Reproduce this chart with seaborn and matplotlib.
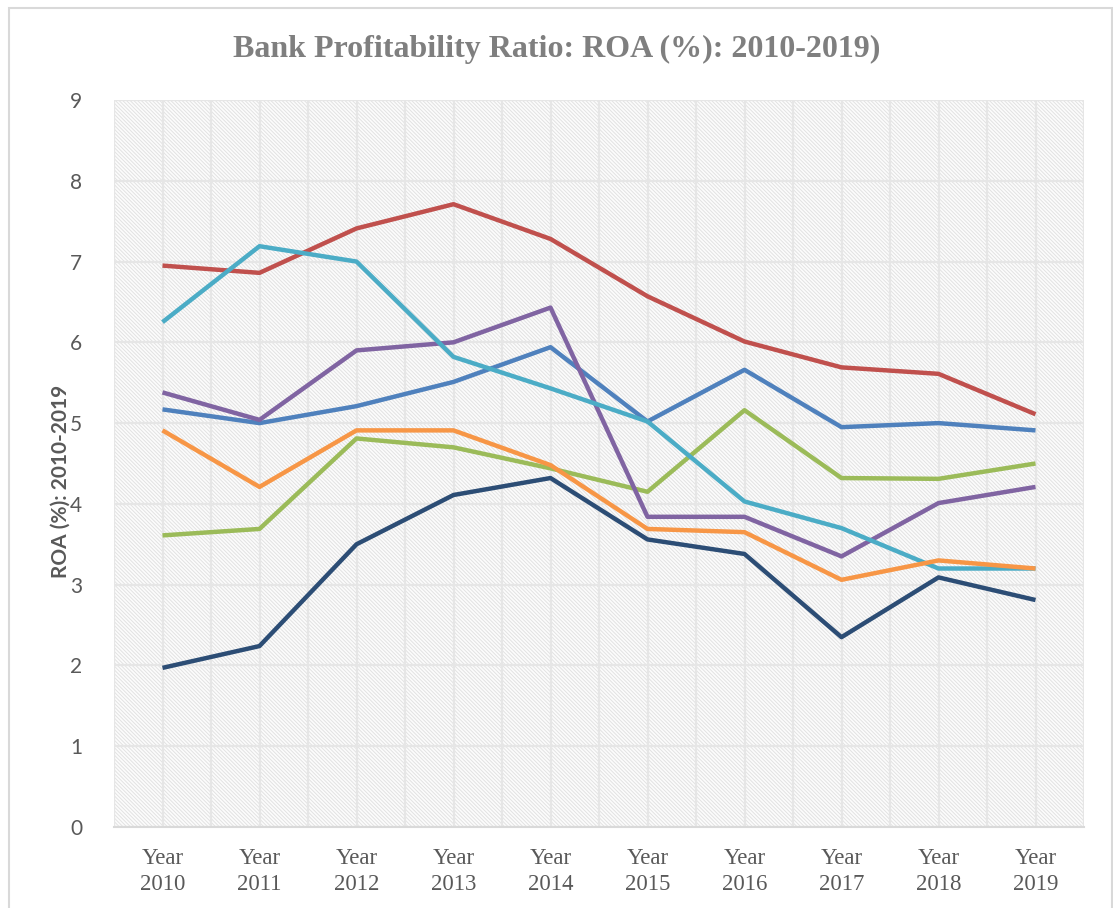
import matplotlib
matplotlib.use("Agg")
import matplotlib.pyplot as plt
from matplotlib.patches import Rectangle
import seaborn as sns
import pandas as pd
import numpy as np

years = ["Year\n2010", "Year\n2011", "Year\n2012", "Year\n2013", "Year\n2014",
         "Year\n2015", "Year\n2016", "Year\n2017", "Year\n2018", "Year\n2019"]

series_names = ["Bank 1", "Bank 2", "Bank 3", "Bank 4", "Bank 5", "Bank 6", "Bank 7"]

bank1 = [5.17, 5.00, 5.21, 5.51, 5.94, 5.02, 5.66, 4.95, 5.00, 4.91]   # blue
bank2 = [6.95, 6.86, 7.41, 7.71, 7.28, 6.57, 6.01, 5.69, 5.61, 5.11]   # red
bank3 = [3.61, 3.69, 4.81, 4.70, 4.44, 4.15, 5.16, 4.32, 4.31, 4.50]   # green
bank4 = [5.38, 5.04, 5.90, 6.00, 6.43, 3.84, 3.84, 3.35, 4.01, 4.21]   # purple
bank5 = [6.25, 7.19, 7.00, 5.82, 5.43, 5.02, 4.03, 3.70, 3.20, 3.20]   # cyan
bank6 = [4.91, 4.21, 4.91, 4.91, 4.48, 3.69, 3.65, 3.06, 3.30, 3.20]   # orange
bank7 = [1.97, 2.24, 3.50, 4.11, 4.32, 3.56, 3.38, 2.35, 3.09, 2.81]   # navy

colors = ["#4F81BD", "#C0504D", "#9BBB59", "#8064A2", "#4BACC6", "#F79646", "#2C4D75"]

all_vals = [bank1, bank2, bank3, bank4, bank5, bank6, bank7]
rows = []
for name, vals in zip(series_names, all_vals):
    for i, (yr, v) in enumerate(zip(years, vals)):
        rows.append({"pos": i, "year": yr, "series": name, "roa": v})
df = pd.DataFrame(rows)

sns.set_theme(style="white")
plt.rcParams["hatch.color"] = "#e2e2e2"
plt.rcParams["hatch.linewidth"] = 0.7

fig = plt.figure(figsize=(11.13, 9.08), dpi=100)
ax = fig.add_axes([114/1113, 81/908, (1084-114)/1113, (827-100)/908])

# hatched background
bg = Rectangle((0, 0), 1, 1, transform=ax.transAxes, facecolor="#fcfcfc",
               hatch="\\" * 9, edgecolor="#e2e2e2", linewidth=0, zorder=0)
ax.add_patch(bg)

sns.lineplot(data=df, x="pos", y="roa", hue="series", hue_order=series_names,
             palette=colors, linewidth=3.2, sort=False, legend=False, ax=ax,
             zorder=3, solid_capstyle="butt")

ax.set_xlim(-0.5, 9.5)
ax.set_ylim(0, 9)
ax.set_xticks(range(10))
ax.set_xticks(np.arange(-0.5, 10, 1.0), minor=True)
ax.set_yticks(range(10))
ax.set_xticklabels(years, fontfamily="Liberation Serif", fontsize=16.5, color="#595959",
                   linespacing=1.35)
ax.set_yticklabels([str(i) for i in range(10)], fontfamily="Lato", fontsize=15, color="#595959")
ax.tick_params(axis="both", which="both", length=0)
ax.tick_params(axis="x", pad=15)
ax.tick_params(axis="y", pad=23)

ax.grid(True, which="both", color="#e6e6e6", linewidth=1.6, zorder=1)
ax.set_axisbelow(True)
for s in ["top", "right", "left"]:
    ax.spines[s].set_visible(False)
ax.spines["bottom"].set_color("#d9d9d9")
ax.spines["bottom"].set_linewidth(1.5)

ax.set_xlabel("")
ax.set_ylabel("ROA (%): 2010-2019", fontfamily="Lato", fontweight="bold",
              fontsize=15, color="#595959")
ax.yaxis.set_label_coords(-0.045, 0.475)

fig.text(0.5, 1 - 49/908, "Bank Profitability Ratio: ROA (%): 2010-2019)",
         ha="center", va="center", fontfamily="Liberation Serif", fontweight="bold",
         fontsize=23, color="#7f7f7f")

# outer chart border
border = Rectangle((9/1113, -0.05), (1112-9)/1113, 1.05 - 8/908, transform=fig.transFigure,
                   fill=False, edgecolor="#d9d9d9", linewidth=1.5, zorder=10)
fig.patches.append(border)

fig.savefig("out.png", dpi=100)
